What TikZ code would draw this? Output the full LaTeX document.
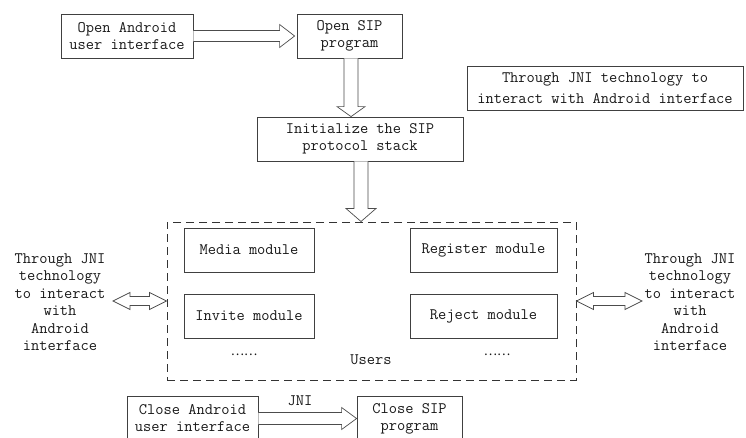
\documentclass[tikz,border=0pt]{standalone}
\usepackage{fontspec}
\newfontfamily\cjk{Noto Sans CJK SC}
\usetikzlibrary{calc}
\tikzset{
  box/.style={draw=black!75, line width=0.8pt, inner sep=0pt, align=center,
    font=\ttfamily\fontsize{16}{17}\selectfont, text=black!90},
  lbl/.style={inner sep=0pt, align=center, font=\ttfamily\fontsize{16}{17.5}\selectfont, text=black!90},
  blockarrow/.style={draw=black!70, line width=0.7pt, fill=white, line join=miter},
}
\newcommand\blockR[5]{%
  \draw[blockarrow] ([yshift=#3]#1) -- ([xshift=-#5,yshift=#3]#2) -- ([xshift=-#5,yshift=#4]#2) -- (#2)
    -- ([xshift=-#5,yshift=-#4]#2) -- ([xshift=-#5,yshift=-#3]#2) -- ([yshift=-#3]#1);}
\newcommand\blockD[5]{%
  \draw[blockarrow] ([xshift=-#3]#1) -- ([xshift=-#3,yshift=#5]#2) -- ([xshift=-#4,yshift=#5]#2) -- (#2)
    -- ([xshift=#4,yshift=#5]#2) -- ([xshift=#3,yshift=#5]#2) -- ([xshift=#3]#1);}
\newcommand\blockLR[5]{%
  \draw[blockarrow] (#1) -- ([xshift=#5,yshift=#4]#1) -- ([xshift=#5,yshift=#3]#1) -- ([xshift=-#5,yshift=#3]#2)
    -- ([xshift=-#5,yshift=#4]#2) -- (#2) -- ([xshift=-#5,yshift=-#4]#2) -- ([xshift=-#5,yshift=-#3]#2)
    -- ([xshift=#5,yshift=-#3]#1) -- ([xshift=#5,yshift=-#4]#1) -- cycle;}
\begin{document}
\begin{tikzpicture}[x=1pt,y=-1pt]
\clip (0,0) rectangle (746,437);
\fill[white] (0,0) rectangle (746,437);

% top boxes
\node[box, minimum width=132pt, minimum height=44pt] (andui) at (127,36) {Open Android\\user interface};
\node[box, minimum width=105pt, minimum height=44pt] (sip) at (349.5,36) {Open SIP\\program};
\node[box, minimum width=276pt, minimum height=44pt, font=\ttfamily\fontsize{16}{21.5}\selectfont] (jnibox) at (605,88) {Through JNI technology to\\interact with Android interface};
\node[box, minimum width=206pt, minimum height=44pt] (init) at (360,139) {Initialize the SIP\\protocol stack};

% users area
\node[draw=black!80, line width=1pt, dash pattern=on 8pt off 5pt, minimum width=409pt, minimum height=158pt, inner sep=0pt] (users) at (371.5,301) {};
\node[box, minimum width=130pt, minimum height=44pt] (media) at (249,250) {Media module};
\node[box, minimum width=130pt, minimum height=44pt] (invite) at (249,316) {Invite module};
\node[box, minimum width=147pt, minimum height=44pt] (register) at (483.5,250) {Register module};
\node[box, minimum width=147pt, minimum height=44pt] (reject) at (483.5,316) {Reject module};
\node[lbl] (dotsl) at (244,355) {\cjk\fontsize{12.5}{13}\selectfont ……};
\node[lbl] (dotsr) at (497,355) {\cjk\fontsize{12.5}{13}\selectfont ……};
\node[lbl] (userslbl) at (371,360) {Users};

% side texts
\node[lbl] (lefttext) at (60,302) {Through JNI\\technology\\to interact\\with\\Android\\interface};
\node[lbl] (righttext) at (690,302) {Through JNI\\technology\\to interact\\with\\Android\\interface};
\coordinate (ltip) at (113,301);
\coordinate (rtip) at (642,301);

% bottom boxes
\node[box, minimum width=131pt, minimum height=44pt] (closeand) at (192.5,418.5) {Close Android\\user interface};
\node[box, minimum width=105pt, minimum height=44pt] (closesip) at (409.5,418.5) {Close SIP\\program};
\node[lbl] (jni) at (300,401) {JNI};

% block arrows
\coordinate (a1s) at (andui.east);
\coordinate (a1t) at ([xshift=-2pt]andui.east -| sip.west);
\blockR{a1s}{a1t}{5.5pt}{11.5pt}{15pt}

\coordinate (a2s) at ([xshift=1.5pt]sip.south);
\coordinate (a2t) at (a2s |- init.north);
\blockD{a2s}{a2t}{7pt}{14pt}{10pt}

\coordinate (a3s) at ([xshift=1pt]init.south);
\coordinate (a3t) at (a3s |- users.north);
\blockD{a3s}{a3t}{7pt}{15pt}{13pt}

\blockLR{ltip}{users.west}{4.5pt}{8.5pt}{17pt}
\blockLR{users.east}{rtip}{4.5pt}{8.5pt}{17pt}

\coordinate (a4s) at (closeand.east);
\coordinate (a4t) at (closeand.east -| closesip.west);
\blockR{a4s}{a4t}{6pt}{11pt}{15pt}
\end{tikzpicture}
\end{document}
